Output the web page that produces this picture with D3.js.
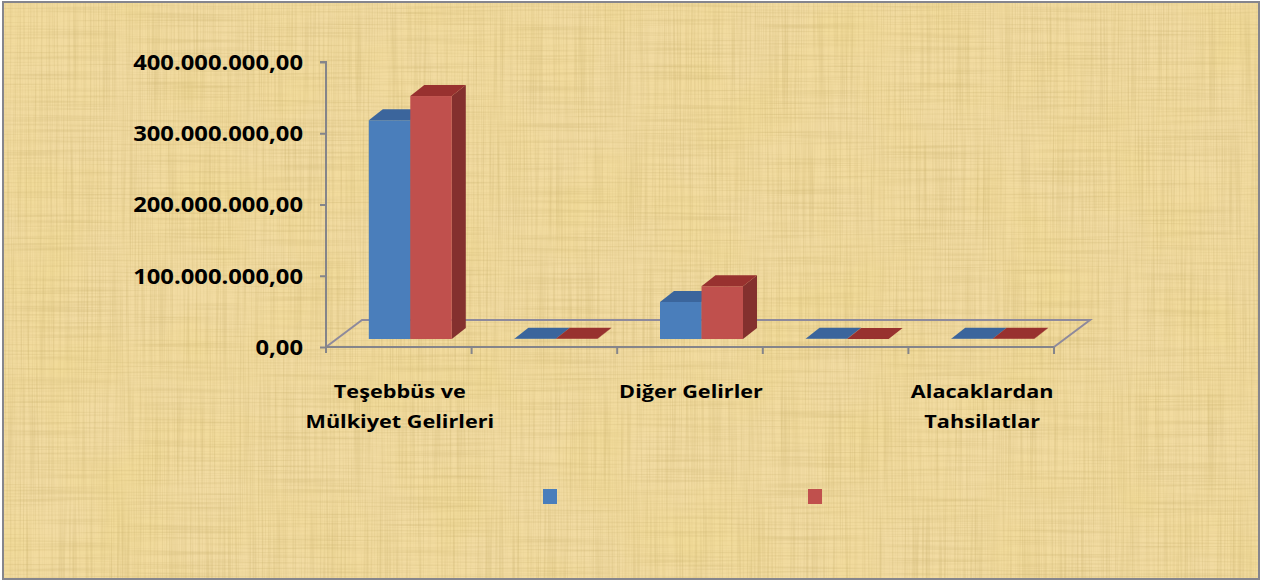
<!DOCTYPE html>
<html>
<head>
<meta charset="utf-8">
<script src="https://cdn.jsdelivr.net/npm/d3@7"></script>
<style>
  html, body { margin: 0; padding: 0; background: #fff; }
  svg { display: block; }
  text { font-family: "Open Sans", "DejaVu Sans", sans-serif; font-weight: 700; fill: #000; }
</style>
</head>
<body>
<svg id="chart" width="1263" height="583"></svg>
<script>
// categories (labels for 2nd and 4th are skipped on the axis, like in the original)
const categories = [
  "Teşebbüs ve\nMülkiyet Gelirleri",
  "Alınan Bağış ve Yardımlar",
  "Diğer Gelirler",
  "Sermaye Gelirleri",
  "Alacaklardan\nTahsilatlar"
];
const seriesKeys = ["s1", "s2"];
const legendLabels = ["", ""];
const series1 = [307000000, 300000, 52000000, 200000, 250000];
const series2 = [341000000, 250000, 74000000, 150000, 200000];
const yTicks = [0, 100000000, 200000000, 300000000, 400000000];

const colors = {
  s1: { front: "#4a7ebb", top: "#3b659c", side: "#335a8c" },
  s2: { front: "#c0504d", top: "#98312f", side: "#84302e" }
};

const svg = d3.select("#chart");

// parchment background
const defs = svg.append("defs");
const f = defs.append("filter").attr("id", "paper").attr("x", 0).attr("y", 0).attr("width", 1).attr("height", 1);
f.append("feTurbulence").attr("type", "fractalNoise").attr("baseFrequency", "0.6 0.008").attr("numOctaves", 2).attr("seed", 3).attr("result", "v");
f.append("feColorMatrix").attr("in", "v").attr("type", "matrix")
  .attr("values", "0 0 0 0 0.6  0 0 0 0 0.45  0 0 0 0 0.15  0 0 0 -0.9 0.55").attr("result", "vc");
f.append("feTurbulence").attr("type", "fractalNoise").attr("baseFrequency", "0.008 0.5").attr("numOctaves", 2).attr("seed", 8).attr("result", "h");
f.append("feColorMatrix").attr("in", "h").attr("type", "matrix")
  .attr("values", "0 0 0 0 0.6  0 0 0 0 0.45  0 0 0 0 0.15  0 0 0 -0.9 0.52").attr("result", "hc");
f.append("feTurbulence").attr("type", "fractalNoise").attr("baseFrequency", "0.012").attr("numOctaves", 3).attr("seed", 5).attr("result", "b");
f.append("feColorMatrix").attr("in", "b").attr("type", "matrix")
  .attr("values", "0 0 0 0 0.88  0 0 0 0 0.7  0 0 0 0 0.28  0 0 0 -1.2 0.75").attr("result", "bc");
f.append("feMerge").selectAll("feMergeNode").data(["SourceGraphic", "bc", "vc", "hc"]).enter()
  .append("feMergeNode").attr("in", d => d);

svg.append("rect").attr("x", 3).attr("y", 2).attr("width", 1256).attr("height", 577)
  .attr("fill", "#f2dba2").attr("filter", "url(#paper)");
svg.append("rect").attr("x", 3).attr("y", 2).attr("width", 1256).attr("height", 577)
  .attr("fill", "none").attr("stroke", "#85858d").attr("stroke-width", 2);

// geometry
const x0 = 326, x1End = 1054, yBase = 347, yTop = 62;
const depth = { dx: 36, dy: -27 };   // floor depth
const barOff = { dx: 10, dy: -8 };    // bar front plane
const barDepth = { dx: 14, dy: -11 }; // bar thickness

const x = d3.scaleBand().domain(categories).range([x0, x1End]).paddingInner(0).paddingOuter(0);
const groupW = x.bandwidth() * 0.57;
const xs = d3.scaleBand().domain(seriesKeys)
  .range([(x.bandwidth() - groupW) / 2 + 1.5, (x.bandwidth() + groupW) / 2 + 1.5]);
const y = d3.scaleLinear().domain([0, 400000000]).range([yBase, yTop]);

const locale = d3.formatLocale({ decimal: ",", thousands: ".", grouping: [3], currency: ["", ""] });
const fmt = locale.format(",.2f");

// floor
const floorPts = [[x0, yBase], [x1End, yBase], [x1End + depth.dx, yBase + depth.dy], [x0 + depth.dx, yBase + depth.dy]];
svg.append("path").attr("d", d3.line()(floorPts.slice(1).concat([floorPts[0]])))
  .attr("fill", "none").attr("stroke", "#8e8a9c").attr("stroke-width", 2);

// y axis
const gy = svg.append("g").attr("transform", `translate(${x0},0)`)
  .call(d3.axisLeft(y).tickValues(yTicks).tickSize(6).tickPadding(0).tickFormat(() => ""));
gy.select(".domain").attr("stroke", "#85858a").attr("stroke-width", 2).attr("d", `M-6,${yTop}H0V${yBase + 6}`);
gy.selectAll(".tick line").attr("stroke", "#85858a").attr("stroke-width", 2);
gy.selectAll(".tick").append("g").attr("transform", "translate(-23,0) scale(1.16,1)")
  .append("text").attr("text-anchor", "end").attr("dy", "0.36em")
  .attr("font-size", 20.5)
  .text(d => fmt(d));

// x axis (front edge)
const gx = svg.append("g").attr("transform", `translate(0,${yBase})`);
gx.append("line").attr("x1", x0).attr("x2", x1End).attr("stroke", "#85858a").attr("stroke-width", 2);
gx.selectAll("line.tk").data(categories).enter().append("line").attr("class", "tk")
  .attr("x1", d => x(d) + x.bandwidth()).attr("x2", d => x(d) + x.bandwidth())
  .attr("y1", 0).attr("y2", 7).attr("stroke", "#85858a").attr("stroke-width", 2);

const labels = gx.selectAll("g.lab").data(categories.filter((d, i) => i % 2 === 0)).enter()
  .append("g").attr("class", "lab")
  .attr("transform", d => `translate(${x(d) + x.bandwidth() / 2 + 1},51) scale(1.17,1)`);
labels.each(function (d) {
  const t = d3.select(this).append("text").attr("text-anchor", "middle").attr("font-size", 18.5);
  d.split("\n").forEach((line, i) => t.append("tspan").attr("x", 0).attr("dy", i ? 30 : 0).text(line));
});

// bars
const rows = categories.map((c, i) => ({ cat: c, s1: series1[i], s2: series2[i] }));
const bars = [];
rows.forEach(r => seriesKeys.forEach(k => bars.push({ cat: r.cat, key: k, v: r[k] })));

const gb = svg.append("g").attr("transform", `translate(${barOff.dx},${barOff.dy})`);
const bar = gb.selectAll("g.bar").data(bars).enter().append("g").attr("class", "bar");
const bx = d => x(d.cat) + xs(d.key);
const bw = xs.bandwidth();
const line = d3.line();

bar.append("path").attr("fill", d => colors[d.key].side)
  .attr("d", d => line([[bx(d) + bw, y(d.v)], [bx(d) + bw + barDepth.dx, y(d.v) + barDepth.dy],
    [bx(d) + bw + barDepth.dx, yBase + barDepth.dy], [bx(d) + bw, yBase]]) + "Z");
bar.append("rect").attr("fill", d => colors[d.key].front)
  .attr("x", bx).attr("y", d => y(d.v)).attr("width", bw).attr("height", d => yBase - y(d.v));
bar.append("path").attr("fill", d => colors[d.key].top)
  .attr("d", d => line([[bx(d), y(d.v)], [bx(d) + bw, y(d.v)],
    [bx(d) + bw + barDepth.dx, y(d.v) + barDepth.dy], [bx(d) + barDepth.dx, y(d.v) + barDepth.dy]]) + "Z");

// legend (no series names in the original)
const lx = d3.scalePoint().domain(seriesKeys).range([543, 808]);
const lg = svg.append("g").selectAll("g").data(seriesKeys).enter().append("g")
  .attr("transform", d => `translate(${lx(d)},489)`);
lg.append("rect").attr("width", 14).attr("height", 15).attr("fill", d => colors[d].front);
lg.append("text").attr("x", 20).attr("y", 12).attr("font-size", 16).text((d, i) => legendLabels[i]);
</script>
</body>
</html>
